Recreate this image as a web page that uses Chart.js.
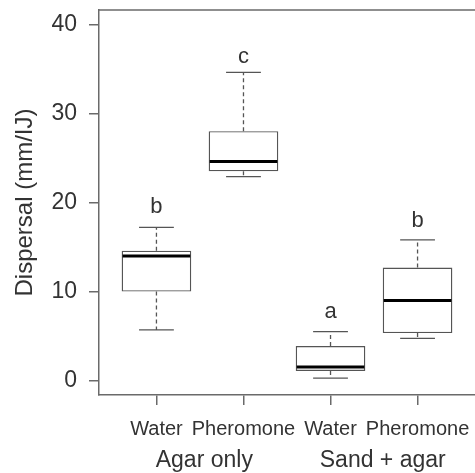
<!DOCTYPE html>
<html>
<head>
<meta charset="utf-8">
<script src="https://cdn.jsdelivr.net/npm/chart.js@4/dist/chart.umd.min.js"></script>
<style>
html,body{margin:0;padding:0;background:#fff;}
#wrap{width:475px;height:473px;}
</style>
</head>
<body>
<div id="wrap"><canvas id="c" width="475" height="473"></canvas></div>
<script>
// ---- data ----
const categories = ["Water", "Pheromone", "Water", "Pheromone"];
const groups = ["Agar only", "Sand + agar"];
const groupPos = [1.55, 3.6];
const whiskerLow = [5.7, 22.9, 0.3, 4.75];
const q1 = [10.0, 23.5, 1.1, 5.35];
const median = [14.0, 24.6, 1.55, 9.0];
const q3 = [14.6, 28.0, 3.9, 12.7];
const whiskerHigh = [17.2, 34.6, 5.5, 15.8];
const letters = ["b", "c", "a", "b"];
const letterY = [18.8, 35.7, 7.0, 17.2];
const yTicks = [0, 10, 20, 30, 40];
const xPos = [1, 2, 3, 4];

const FONT = "'Liberation Sans', Arial, Helvetica, sans-serif";
const AXIS = '#6a6a6a';
const TEXT = '#333333';

const boxPlugin = {
  id: 'boxExtras',
  afterDatasetsDraw(chart) {
    const ctx = chart.ctx;
    const xs = chart.scales.x, ys = chart.scales.y;
    const meta = chart.getDatasetMeta(0);
    ctx.save();
    xPos.forEach((xv, i) => {
      const px = xs.getPixelForValue(xv);
      const bw = meta.data[i].width;
      const half = bw / 2;
      const cap = bw / 4;
      ctx.strokeStyle = '#555';
      ctx.lineWidth = 1.3;
      ctx.setLineDash([4, 3]);
      ctx.beginPath();
      ctx.moveTo(px, ys.getPixelForValue(q3[i]));
      ctx.lineTo(px, ys.getPixelForValue(whiskerHigh[i]));
      ctx.moveTo(px, ys.getPixelForValue(q1[i]));
      ctx.lineTo(px, ys.getPixelForValue(whiskerLow[i]));
      ctx.stroke();
      ctx.setLineDash([]);
      ctx.beginPath();
      const yh = ys.getPixelForValue(whiskerHigh[i]);
      const yl = ys.getPixelForValue(whiskerLow[i]);
      ctx.moveTo(px - cap, yh); ctx.lineTo(px + cap, yh);
      ctx.moveTo(px - cap, yl); ctx.lineTo(px + cap, yl);
      ctx.stroke();
      ctx.strokeStyle = '#000';
      ctx.lineWidth = 3;
      ctx.beginPath();
      const ym = ys.getPixelForValue(median[i]);
      ctx.moveTo(px - half + 1, ym); ctx.lineTo(px + half - 1, ym);
      ctx.stroke();
      ctx.fillStyle = TEXT;
      ctx.font = '22px ' + FONT;
      ctx.textAlign = 'center';
      ctx.textBaseline = 'alphabetic';
      ctx.fillText(letters[i], px, ys.getPixelForValue(letterY[i]));
    });
    ctx.restore();
  },
  afterDraw(chart) {
    const ctx = chart.ctx;
    const a = chart.chartArea;
    const xs = chart.scales.x;
    ctx.save();
    ctx.strokeStyle = AXIS;
    ctx.lineWidth = 1.5;
    ctx.beginPath();
    ctx.moveTo(a.left, a.top);
    ctx.lineTo(a.right, a.top);
    ctx.stroke();
    ctx.fillStyle = TEXT;
    ctx.font = '23px ' + FONT;
    ctx.textAlign = 'center';
    ctx.textBaseline = 'alphabetic';
    groups.forEach((g, i) => {
      ctx.fillText(g, xs.getPixelForValue(groupPos[i]), a.bottom + 72);
    });
    ctx.restore();
  }
};

new Chart(document.getElementById('c'), {
  type: 'bar',
  data: {
    datasets: [{
      data: xPos.map((x, i) => ({ x: x, y: [q1[i], q3[i]] })),
      backgroundColor: '#ffffff',
      borderColor: '#555555',
      borderWidth: 1.4,
      borderSkipped: false,
      categoryPercentage: 1.0,
      barPercentage: 0.8
    }]
  },
  options: {
    responsive: false,
    animation: false,
    layout: { padding: { left: 0, right: 0, top: 10, bottom: 0 } },
    plugins: { legend: { display: false }, tooltip: { enabled: false } },
    scales: {
      x: {
        type: 'linear',
        min: 0.34, max: 4.66,
        offset: false,
        afterBuildTicks: (s) => { s.ticks = xPos.map(v => ({ value: v })); },
        afterFit: (s) => { s.height = 78; s.paddingLeft = 0; s.paddingRight = 0; },
        grid: { offset: false, drawOnChartArea: false, drawTicks: true, tickLength: 10, color: AXIS, lineWidth: 1.5 },
        border: { display: true, color: AXIS, width: 1.5 },
        ticks: {
          autoSkip: false, maxRotation: 0, minRotation: 0,
          padding: 12,
          color: TEXT,
          font: { family: FONT, size: 20 },
          callback: (v, idx) => categories[idx]
        }
      },
      y: {
        type: 'linear',
        min: -1.6, max: 41.6,
        afterBuildTicks: (s) => { s.ticks = yTicks.map(v => ({ value: v })); },
        afterFit: (s) => { s.width = 99; s.paddingTop = 0; s.paddingBottom = 0; },
        grid: { drawOnChartArea: false, drawTicks: true, tickLength: 10, color: AXIS, lineWidth: 1.5 },
        border: { display: true, color: AXIS, width: 1.5 },
        ticks: {
          padding: 12,
          color: TEXT,
          font: { family: FONT, size: 23 },
          callback: (v) => String(v)
        },
        title: {
          display: true,
          text: 'Dispersal (mm/IJ)',
          color: TEXT,
          font: { family: FONT, size: 24 },
          padding: { top: 11, bottom: 0 }
        }
      }
    }
  },
  plugins: [boxPlugin]
});
</script>
</body>
</html>
